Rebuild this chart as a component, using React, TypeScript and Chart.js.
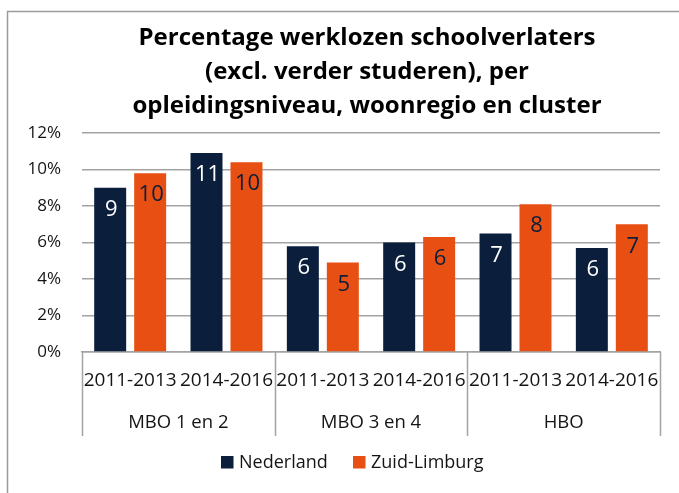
import { useEffect, useRef } from "react";
import { Chart, registerables } from "chart.js";

Chart.register(...registerables);

const titleLines = [
  "Percentage werklozen schoolverlaters",
  "(excl. verder studeren), per",
  "opleidingsniveau, woonregio en cluster",
];
const categories = ["2011-2013", "2014-2016", "2011-2013", "2014-2016", "2011-2013", "2014-2016"];
const groups = ["MBO 1 en 2", "MBO 3 en 4", "HBO"];
const seriesNames = ["Nederland", "Zuid-Limburg"];
const nederland = [9.0, 10.9, 5.8, 6.0, 6.5, 5.7];
const zuidLimburg = [9.8, 10.4, 4.9, 6.3, 8.1, 7.0];
const yMin = 0;
const yMax = 12;
const yStep = 2;

const NAVY = "#0b1f3d";
const ORANGE = "#e84f12";
const GRID = "#a3a3a3";
const TEXT = "#141414";
const FONT = "'Open Sans', 'Noto Sans', sans-serif";

const W = 679;
const H = 493;

const decor = {
  id: "decor",
  beforeDraw(chart: any) {
    const ctx = chart.ctx;
    ctx.save();
    ctx.fillStyle = "#ffffff";
    ctx.fillRect(0, 0, W, H);
    ctx.strokeStyle = "#9a9a9a";
    ctx.lineWidth = 1.5;
    ctx.strokeRect(7.5, 11.5, 760, 560);
    ctx.restore();
  },
  afterDraw(chart: any) {
    const ctx = chart.ctx;
    const xs = chart.scales.x;
    ctx.save();

    // title
    ctx.fillStyle = "#000000";
    ctx.font = `bold 24px ${FONT}`;
    ctx.textAlign = "center";
    ctx.textBaseline = "alphabetic";
    titleLines.forEach((line, i) => {
      ctx.fillText(line, 367, 45 + i * 34);
    });

    // data labels
    const series = [nederland, zuidLimburg];
    const labelColors = ["#ffffff", NAVY];
    ctx.font = `22px ${FONT}`;
    ctx.textBaseline = "middle";
    series.forEach((vals, di) => {
      const meta = chart.getDatasetMeta(di);
      meta.data.forEach((bar: any, i: number) => {
        const p = bar.getProps(["x", "y"], true);
        ctx.fillStyle = labelColors[di];
        ctx.fillText(String(Math.round(vals[i])), p.x + 1, p.y + 22);
      });
    });

    // multi-level x axis
    const bottom = xs.top;
    const tableBottom = bottom + 84;
    const step = (xs.right - xs.left) / categories.length;
    ctx.fillStyle = TEXT;
    ctx.font = `19px ${FONT}`;
    categories.forEach((c, i) => {
      ctx.fillText(c, xs.getPixelForValue(i), bottom + 29);
    });
    ctx.font = `18.5px ${FONT}`;
    const per = categories.length / groups.length;
    groups.forEach((g, gi) => {
      const a = xs.getPixelForValue(gi * per);
      const b = xs.getPixelForValue(gi * per + per - 1);
      ctx.fillText(g, (a + b) / 2, bottom + 71);
    });
    ctx.strokeStyle = GRID;
    ctx.lineWidth = 1.5;
    for (let k = 0; k <= groups.length; k++) {
      const x = Math.round(xs.getPixelForValue(k * per) - step / 2) + 0.5;
      ctx.beginPath();
      ctx.moveTo(x, bottom);
      ctx.lineTo(x, tableBottom);
      ctx.stroke();
    }

    // legend
    const colors = [NAVY, ORANGE];
    const legendX = [221, 353];
    const ly = 462;
    ctx.font = `18px ${FONT}`;
    ctx.textAlign = "left";
    seriesNames.forEach((n, i) => {
      ctx.fillStyle = colors[i];
      ctx.fillRect(legendX[i], ly - 6, 12.5, 12.5);
      ctx.fillStyle = TEXT;
      ctx.fillText(n, legendX[i] + 18, ly + 1);
    });

    ctx.restore();
  },
};

export default function App() {
  const ref = useRef<HTMLCanvasElement | null>(null);

  useEffect(() => {
    if (!ref.current) return;
    const chart = new Chart(ref.current, {
      type: "bar",
      data: {
        labels: categories,
        datasets: [
          {
            label: seriesNames[0],
            data: nederland,
            backgroundColor: NAVY,
            categoryPercentage: 0.83,
            barPercentage: 0.8,
          },
          {
            label: seriesNames[1],
            data: zuidLimburg,
            backgroundColor: ORANGE,
            categoryPercentage: 0.83,
            barPercentage: 0.8,
          },
        ],
      },
      options: {
        responsive: false,
        animation: false,
        devicePixelRatio: 1,
        layout: { padding: { top: 133, right: 19, left: 0, bottom: 0 } },
        plugins: {
          legend: { display: false },
          title: { display: false },
          tooltip: { enabled: false },
        },
        scales: {
          x: {
            ticks: { display: false },
            grid: { display: false },
            border: { display: true, color: GRID, width: 1.5 },
            afterFit(scale: any) {
              scale.height = 141;
            },
          },
          y: {
            min: yMin,
            max: yMax,
            ticks: {
              stepSize: yStep,
              padding: 21,
              color: TEXT,
              font: { family: FONT, size: 17 },
              callback: (v: any) => `${v}%`,
            },
            grid: { color: GRID, lineWidth: 1.5, drawTicks: false },
            border: { display: false },
            afterFit(scale: any) {
              scale.width = 82;
            },
          },
        },
      },
      plugins: [decor],
    });
    return () => chart.destroy();
  }, []);

  return (
    <div style={{ position: "absolute", left: 0, top: 0, width: W, height: H, background: "#fff" }}>
      <canvas ref={ref} width={W} height={H} style={{ display: "block", width: W, height: H }} />
    </div>
  );
}
